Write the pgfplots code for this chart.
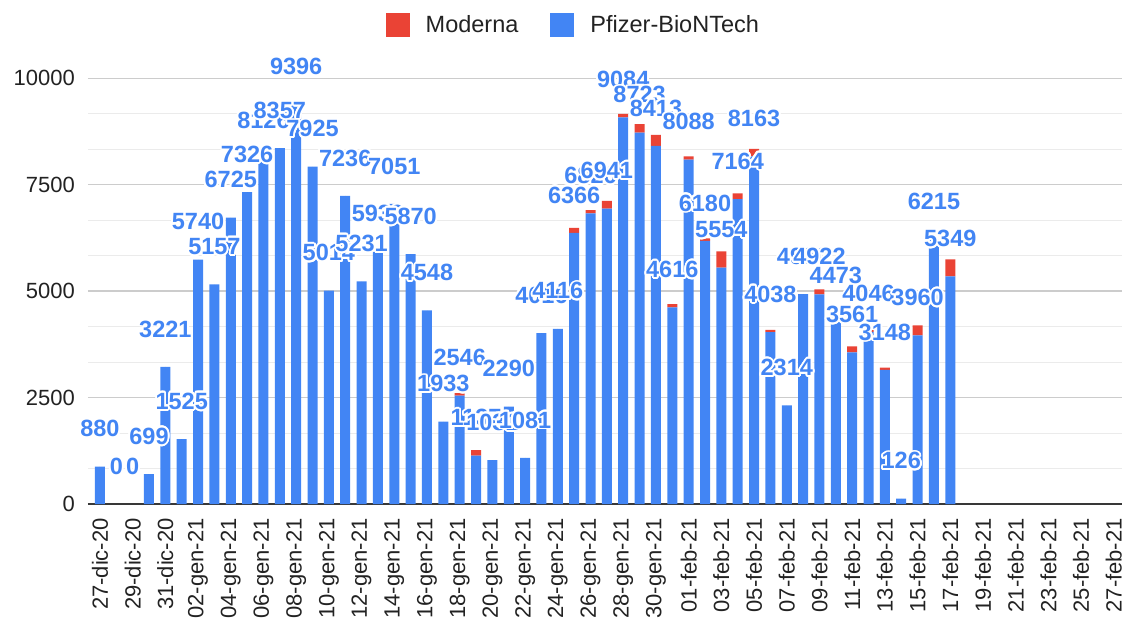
\documentclass[border=0pt]{standalone}
\usepackage{fontspec}
\setmainfont{Liberation Sans}
\usepackage{pgfplots}
\pgfplotsset{compat=1.18}
\usepackage{pgfplotstable}
\usepackage{contour}
\contourlength{1.8pt}
\contournumber{24}
\definecolor{gblue}{HTML}{4285F4}
\definecolor{gred}{HTML}{EA4335}
\definecolor{gtxt}{HTML}{222222}

\pgfplotstableread{
x p m
0 880 0
1 0 0
2 0 0
3 699 0
4 3221 0
5 1525 0
6 5740 0
7 5157 0
8 6725 0
9 7326 0
10 8126 0
11 8357 0
12 9396 0
13 7925 0
14 5014 0
15 7236 0
16 5231 0
17 5930 0
18 7051 0
19 5870 0
20 4548 0
21 1933 0
22 2546 60
23 1137 130
24 1031 0
25 2290 0
26 1081 0
27 4016 0
28 4116 0
29 6366 120
30 6826 80
31 6941 180
32 9084 80
33 8723 200
34 8413 260
35 4616 80
36 8088 80
37 6180 60
38 5554 380
39 7164 130
40 8163 180
41 4038 55
42 2314 0
43 4930 0
44 4922 117
45 4473 0
46 3561 140
47 4046 40
48 3148 55
49 126 0
50 3960 235
51 6215 0
52 5349 400
}\vacc

\pgfplotsset{frame/.style={
  at={(0pt,0pt)}, anchor=south west,
  scale only axis, width=1034pt, height=425.7pt,
  xmin=-0.73, xmax=62.5, ymin=0, ymax=10000, clip=false}}

\begin{document}
\begin{tikzpicture}
\useasboundingbox (-88pt,-114pt) rectangle (1043pt,504pt);
\begin{axis}[
  frame,
  ybar stacked, bar width=10pt,
  axis lines*=left,
  x axis line style={draw=gtxt!90, line width=1.5pt},
  y axis line style={draw=none},
  major tick length=0pt, minor tick length=0pt,
  ytick={0,2500,5000,7500,10000},
  minor y tick num=2,
  ymajorgrids, yminorgrids,
  major grid style={draw=black!20, line width=1.3pt},
  minor grid style={draw=black!8, line width=1.1pt},
  scaled y ticks=false,
  /pgf/number format/assume math mode=true,
  /pgf/number format/1000 sep={},
  yticklabel style={font=\fontsize{22}{22}\selectfont, text=gtxt, inner sep=0pt},
  yticklabel shift=13pt,
  xtick={0,2,...,62},
  xticklabels={27-dic-20,29-dic-20,31-dic-20,02-gen-21,04-gen-21,06-gen-21,08-gen-21,10-gen-21,12-gen-21,14-gen-21,16-gen-21,18-gen-21,20-gen-21,22-gen-21,24-gen-21,26-gen-21,28-gen-21,30-gen-21,01-feb-21,03-feb-21,05-feb-21,07-feb-21,09-feb-21,11-feb-21,13-feb-21,15-feb-21,17-feb-21,19-feb-21,21-feb-21,23-feb-21,25-feb-21,27-feb-21},
  xticklabel style={rotate=90, anchor=east, font=\fontsize{22}{22}\selectfont, text=gtxt, inner sep=0pt},
  xticklabel shift=14pt,
  reverse legend,
  legend columns=2,
  legend image code/.code={\fill[#1,draw=none] (0pt,-12pt) rectangle (24pt,12pt);},
  legend style={at={(0.4684,1.125)}, anchor=center, draw=none, fill=none,
    font=\fontsize{23.5}{23.5}\selectfont, text=gtxt, inner sep=0pt,
    nodes={inner sep=0pt},
    /tikz/every odd column/.append style={column sep=16pt},
    /tikz/every even column/.append style={column sep=32pt}},
]
\addplot+[fill=gblue, draw=none] table[x=x, y=p] {\vacc};
\addlegendentry{Pfizer-BioNTech}
\addplot+[fill=gred, draw=none] table[x=x, y=m] {\vacc};
\addlegendentry{Moderna}
\end{axis}
\begin{axis}[frame, hide axis]
\addplot[only marks, mark=*, mark size=0pt, mark options={draw=none, fill=none},
  point meta=explicit symbolic,
  nodes near coords={\contour{white}{\pgfplotspointmeta}},
  every node near coord/.append style={anchor=center, yshift=37pt, text=gblue,
     font=\fontsize{23.5}{23.5}\selectfont\bfseries, inner sep=0pt}]
  table[x=x, y=p, meta=p] {\vacc};
\end{axis}
\end{tikzpicture}
\end{document}
